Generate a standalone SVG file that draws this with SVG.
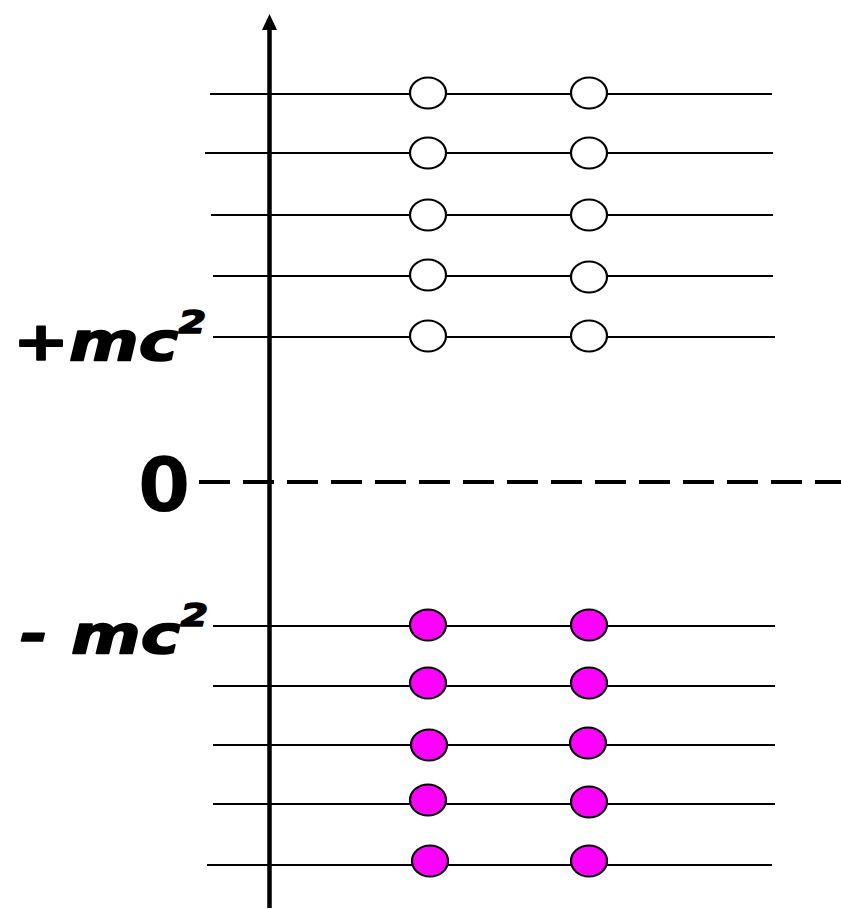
<svg xmlns="http://www.w3.org/2000/svg" width="841" height="909" viewBox="0 0 841 909">
<style>
.lvl{stroke:#000;stroke-width:2.2;fill:none}
.e{stroke:#000;stroke-width:2.2;fill:#fff}
.f{stroke:#000;stroke-width:2.2;fill:#ff00ff}
.lbl{font-family:"DejaVu Sans",Verdana,sans-serif;font-weight:bold;font-style:italic;fill:#000;stroke:#000;stroke-width:1.6;stroke-linejoin:round}
</style>
<g id="connectors">
<line x1="269.5" y1="908" x2="269.5" y2="29" stroke="#000" stroke-width="4.5"/>
<path d="M262,30 L269.5,14 L277,30 Z" fill="#000"/>
<line x1="199" y1="482" x2="841" y2="482" stroke="#000" stroke-width="4" stroke-dasharray="31,13"/>
<line class="lvl" x1="210" y1="94" x2="772" y2="94"/>
<line class="lvl" x1="205" y1="153" x2="773" y2="153"/>
<line class="lvl" x1="211" y1="215" x2="773" y2="215"/>
<line class="lvl" x1="213" y1="276" x2="773" y2="276"/>
<line class="lvl" x1="213" y1="337" x2="775" y2="337"/>
<line class="lvl" x1="213" y1="626" x2="775" y2="626"/>
<line class="lvl" x1="213" y1="686" x2="775" y2="686"/>
<line class="lvl" x1="213" y1="745" x2="775" y2="745"/>
<line class="lvl" x1="213" y1="804" x2="775" y2="804"/>
<line class="lvl" x1="207" y1="865" x2="772" y2="865"/>
</g>
<g id="pos1"><ellipse class="e" cx="428" cy="93" rx="18" ry="15.5"/><ellipse class="e" cx="589" cy="93" rx="18" ry="15.5"/></g>
<g id="pos2"><ellipse class="e" cx="428" cy="153" rx="18" ry="15.5"/><ellipse class="e" cx="589" cy="153" rx="18" ry="15.5"/></g>
<g id="pos3"><ellipse class="e" cx="428" cy="215" rx="18" ry="15.5"/><ellipse class="e" cx="589" cy="215" rx="18" ry="15.5"/></g>
<g id="pos4"><ellipse class="e" cx="428" cy="275" rx="18" ry="15.5"/><ellipse class="e" cx="589" cy="277" rx="18" ry="15.5"/></g>
<g id="pos5"><ellipse class="e" cx="428" cy="336" rx="18" ry="15.5"/><ellipse class="e" cx="589" cy="336" rx="18" ry="15.5"/></g>
<g id="neg1"><ellipse class="f" cx="428" cy="625" rx="18" ry="15.5"/><ellipse class="f" cx="589" cy="625" rx="18" ry="15.5"/></g>
<g id="neg2"><ellipse class="f" cx="428" cy="683" rx="18" ry="15.5"/><ellipse class="f" cx="589" cy="683" rx="18" ry="15.5"/></g>
<g id="neg3"><ellipse class="f" cx="429" cy="745" rx="18" ry="15.5"/><ellipse class="f" cx="588" cy="743" rx="18" ry="15.5"/></g>
<g id="neg4"><ellipse class="f" cx="428" cy="800" rx="18" ry="15.5"/><ellipse class="f" cx="589" cy="802" rx="18" ry="15.5"/></g>
<g id="neg5"><ellipse class="f" cx="430" cy="861" rx="18" ry="15.5"/><ellipse class="f" cx="589" cy="861" rx="18" ry="15.5"/></g>
<g id="labels">
<text class="lbl" transform="translate(13,360) scale(1.24,1)" font-size="54">+mc<tspan font-size="32" dy="-27">2</tspan></text>
<text class="lbl" transform="translate(20,653) scale(1.24,1)" font-size="54">- mc<tspan font-size="32" dy="-27">2</tspan></text>
<text x="138" y="511" font-family="'DejaVu Sans',Verdana,sans-serif" font-weight="bold" font-size="75" fill="#000">0</text>
</g>
</svg>
